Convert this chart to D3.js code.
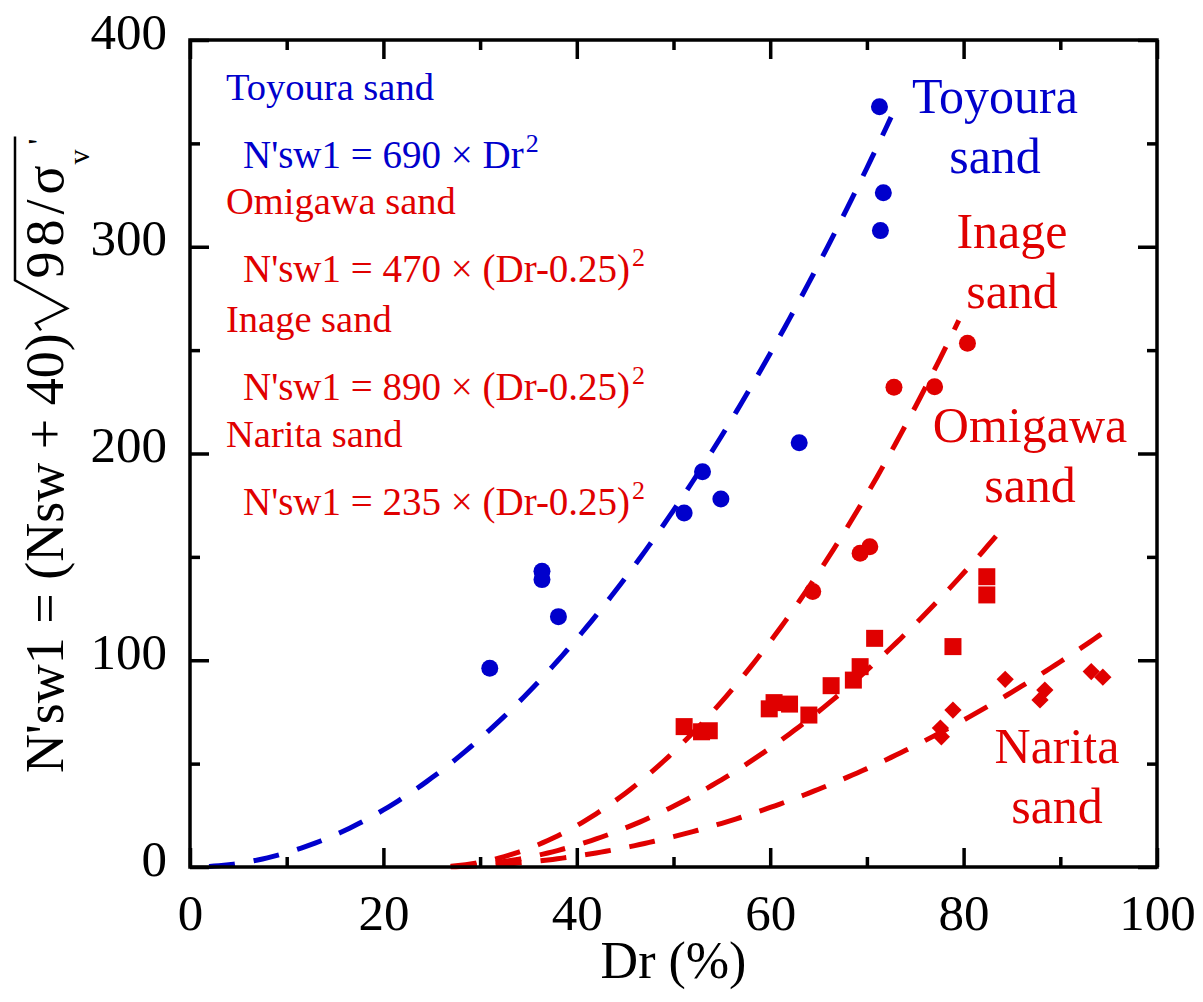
<!DOCTYPE html>
<html>
<head>
<meta charset="utf-8">
<script src="https://cdn.jsdelivr.net/npm/d3@7"></script>
<style>
  body { margin: 0; background: #fff; }
  text { font-family: "Liberation Serif", "Times New Roman", serif; }
</style>
</head>
<body>
<div id="chart"></div>
<script>
// data
var toyouraDr = [31.0, 36.4, 36.4, 38.1, 51.1, 53.0, 54.9, 63.0, 71.3, 71.7, 71.4];
var toyouraN  = [96.1, 143, 139, 121.1, 171.2, 191.2, 178.0, 205.2, 367.7, 326.1, 307.8];

var inageDr = [64.4, 69.3, 70.3, 72.8, 77.0, 80.4];
var inageN  = [133.2, 151.7, 154.9, 232.0, 232.3, 253.3];

var omigawaDr = [51.1, 52.9, 53.7, 59.9, 60.4, 62.0, 64.0, 66.3, 68.6, 69.3, 70.8, 78.9, 82.4, 82.4];
var omigawaN  = [67.9, 65.4, 65.9, 76.5, 79.5, 78.8, 73.5, 87.7, 90.4, 96.9, 110.6, 106.6, 140.4, 131.6];

var naritaDr = [77.6, 77.7, 78.9, 84.3, 88.4, 87.9, 93.2, 94.4];
var naritaN  = [67.2, 63.0, 75.9, 90.8, 85.6, 80.8, 94.5, 91.8];

// fitted curves N'sw1 = a * (Dr - b)^2, drawn between start and end Dr (%)
var fitNames  = ["Toyoura", "Omigawa", "Inage", "Narita"];
var fitA      = [690, 470, 890, 235];
var fitB      = [0, 0.25, 0.25, 0.25];
var fitStart  = [0, 25, 25, 25];
var fitEnd    = [72.8, 84.5, 79.8, 94.8];

var xTicks = [0, 20, 40, 60, 80, 100];
var yTicks = [0, 100, 200, 300, 400];

var blue = "#0000cc";
var red = "#e00000";

var svgWidth = 1203, svgHeight = 1002;
var margin = { top: 40, right: 46, bottom: 135, left: 190 };
var width = svgWidth - margin.left - margin.right;
var height = svgHeight - margin.top - margin.bottom;

var svg = d3.select("#chart").append("svg")
    .attr("width", svgWidth)
    .attr("height", svgHeight);

var chartGroup = svg.append("g")
    .attr("transform", `translate(${margin.left}, ${margin.top})`);

var x = d3.scaleLinear().domain([0, 100]).range([0, width]);
var y = d3.scaleLinear().domain([0, 400]).range([height, 0]);

// fitted dashed curves
var line = d3.line().x(d => x(d[0])).y(d => y(d[1]));
fitA.forEach(function(a, i) {
    var pts = [];
    for (var dr = fitStart[i]; dr <= fitEnd[i] + 0.001; dr += 0.5) {
        var v = dr / 100 - fitB[i];
        pts.push([dr, a * v * v]);
    }
    chartGroup.append("path")
        .attr("d", line(pts))
        .attr("fill", "none")
        .attr("stroke", i == 0 ? blue : red)
        .attr("stroke-width", 5)
        .attr("stroke-dasharray", "26,19")
        .attr("stroke-dashoffset", 26);
});

// markers
function zip(a, b) { return a.map((v, i) => [v, b[i]]); }

chartGroup.selectAll(".toy").data(zip(toyouraDr, toyouraN)).enter()
    .append("circle")
    .attr("cx", d => x(d[0])).attr("cy", d => y(d[1]))
    .attr("r", 8.5).attr("fill", blue);

chartGroup.selectAll(".ina").data(zip(inageDr, inageN)).enter()
    .append("circle")
    .attr("cx", d => x(d[0])).attr("cy", d => y(d[1]))
    .attr("r", 8.5).attr("fill", red);

chartGroup.selectAll(".omi").data(zip(omigawaDr, omigawaN)).enter()
    .append("rect")
    .attr("x", d => x(d[0]) - 8.5).attr("y", d => y(d[1]) - 8.5)
    .attr("width", 17).attr("height", 17).attr("fill", red);

chartGroup.selectAll(".nar").data(zip(naritaDr, naritaN)).enter()
    .append("path")
    .attr("d", d3.symbol().type(d3.symbolDiamond2).size(190))
    .attr("transform", d => `translate(${x(d[0])}, ${y(d[1])})`)
    .attr("fill", red);

// axes (ticks inward on all four sides)
function tickAxis(axis, values, len, labels) {
    return axis.tickValues(values).tickSize(-len)
        .tickFormat(labels ? d3.format("d") : "");
}
var xMinor = d3.range(10, 100, 20);
var yMinor = d3.range(50, 400, 100);

chartGroup.append("g").attr("transform", `translate(0, ${height})`)
    .call(tickAxis(d3.axisBottom(x), xTicks, 19, true).tickPadding(27));
chartGroup.append("g").attr("transform", `translate(0, ${height})`)
    .call(tickAxis(d3.axisBottom(x), xMinor, 10, false));
chartGroup.append("g").call(tickAxis(d3.axisTop(x), xTicks, 19, false));
chartGroup.append("g").call(tickAxis(d3.axisTop(x), xMinor, 10, false));

var leftMajor = chartGroup.append("g")
    .call(tickAxis(d3.axisLeft(y), yTicks, 19, true).tickPadding(23));
chartGroup.append("g").call(tickAxis(d3.axisLeft(y), yMinor, 10, false));
chartGroup.append("g").attr("transform", `translate(${width}, 0)`)
    .call(tickAxis(d3.axisRight(y), yTicks, 19, false));
chartGroup.append("g").attr("transform", `translate(${width}, 0)`)
    .call(tickAxis(d3.axisRight(y), yMinor, 10, false));

chartGroup.selectAll(".domain").remove();
chartGroup.selectAll(".tick line").attr("stroke", "#000").attr("stroke-width", 3.5);
chartGroup.selectAll(".tick text")
    .attr("fill", "#000")
    .style("font-family", '"Liberation Serif", "Times New Roman", serif')
    .style("font-size", "51px");
leftMajor.selectAll(".tick text").attr("dy", "0.16em");

chartGroup.append("rect")
    .attr("width", width).attr("height", height)
    .attr("fill", "none").attr("stroke", "#000").attr("stroke-width", 3.5);

// x axis title
chartGroup.append("text")
    .attr("x", width / 2).attr("y", height + 111)
    .attr("text-anchor", "middle")
    .style("font-size", "52px")
    .text("Dr (%)");

// y axis title with square root
var yTitle = svg.append("g").attr("transform", "translate(63, 773) rotate(-90)");
var t1 = yTitle.append("text").style("font-size", "54px").text("N'sw1 = (Nsw + 40)");
var w1 = t1.node().getComputedTextLength();
var r0 = w1 + 3;
var w2 = 113;
yTitle.append("text").attr("x", r0 + 52)
    .attr("textLength", w2).attr("lengthAdjust", "spacing")
    .style("font-size", "54px").text("98/σ");
var sx = r0 + 52 + w2 + 1;
yTitle.append("text").attr("x", sx).attr("y", 26).style("font-size", "30px").text("v");
yTitle.append("text").attr("x", sx + 20).attr("y", -13).style("font-size", "32px").text("'");
yTitle.append("path")
    .attr("d", `M${r0},-22 L${r0 + 7},-27 L${r0 + 22},4 L${r0 + 50},-48 L${sx + 28},-48`)
    .attr("fill", "none").attr("stroke", "#000").attr("stroke-width", 2.5)
    .attr("stroke-linejoin", "miter");

// equations block
var eqNames = ["Toyoura sand", "Omigawa sand", "Inage sand", "Narita sand"];
var eqLead  = ["690", "470", "890", "235"];
var eqColor = [blue, red, red, red];
var eqY = [100, 214, 332, 447];
eqNames.forEach(function(name, i) {
    svg.append("text")
        .attr("x", 226).attr("y", eqY[i])
        .attr("fill", eqColor[i])
        .style("font-size", "38.5px")
        .text(name);
    var eq = svg.append("text")
        .attr("x", 243).attr("y", eqY[i] + 68)
        .attr("fill", eqColor[i])
        .style("font-size", "39px")
        .attr("xml:space", "preserve");
    eq.append("tspan").text("N'sw1 = " + eqLead[i] + " × " + (i == 0 ? "Dr" : "(Dr-0.25)"));
    eq.append("tspan").attr("dx", 2).attr("dy", -16).style("font-size", "26px").text("2");
});

// curve labels on the right
var sideLines = [["Toyoura", "sand"], ["Inage", "sand"], ["Omigawa", "sand"], ["Narita", "sand"]];
var sideX = [995, 1012, 1030, 1057];
var sideY = [113, 248, 442, 763];
var sideColor = [blue, red, red, red];
sideLines.forEach(function(lines, i) {
    lines.forEach(function(s, j) {
        svg.append("text")
            .attr("x", sideX[i]).attr("y", sideY[i] + j * 60)
            .attr("text-anchor", "middle")
            .attr("fill", sideColor[i])
            .style("font-size", "50px")
            .text(s);
    });
});
</script>
</body>
</html>
